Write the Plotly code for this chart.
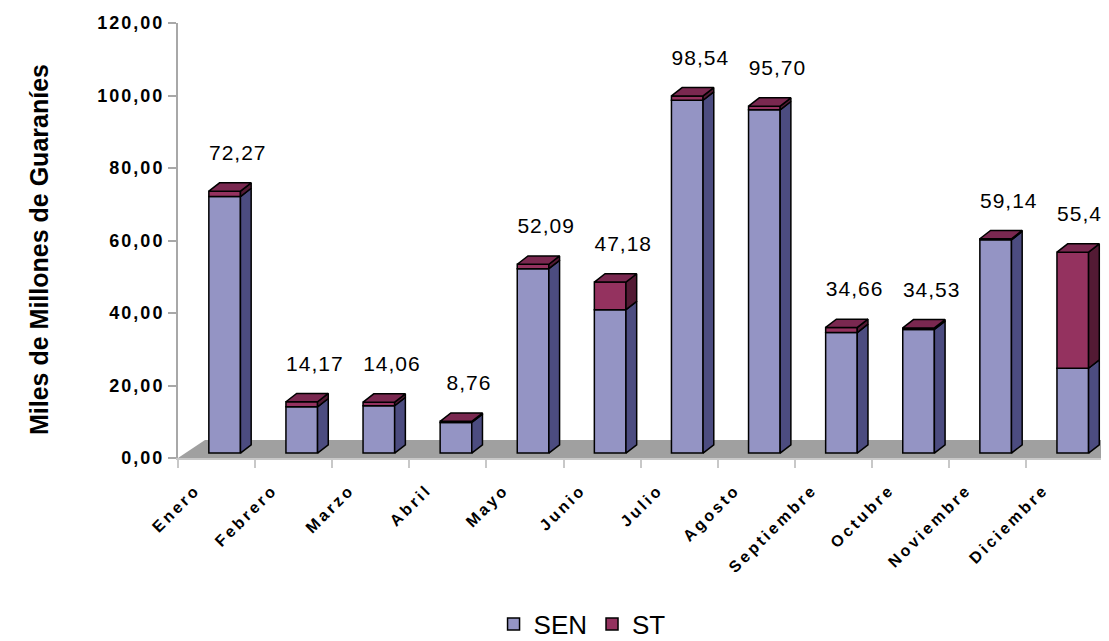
import plotly.graph_objects as go

months = ["Enero", "Febrero", "Marzo", "Abril", "Mayo", "Junio", "Julio",
          "Agosto", "Septiembre", "Octubre", "Noviembre", "Diciembre"]
sen = [70.77, 12.77, 13.06, 8.46, 50.89, 39.58, 97.34, 94.70, 33.26, 34.13, 58.84, 23.40]
st = [1.50, 1.40, 1.00, 0.30, 1.20, 7.60, 1.20, 1.00, 1.40, 0.40, 0.30, 32.03]
totals = [72.27, 14.17, 14.06, 8.76, 52.09, 47.18, 98.54, 95.70, 34.66, 34.53, 59.14, 55.43]
y_ticks = [0, 20, 40, 60, 80, 100, 120]
y_ticktext = [f"{v:.2f}".replace(".", ",") for v in y_ticks]

# 3D look parameters (axis units)
XS = 0.105   # bar shift inside category
W = 0.41     # bar width
DX = 0.139   # depth in x
DY = 2.3     # depth in y
Y0 = 1.35    # bar base above floor front
FDX = 0.35
FDY = 4.97

SEN_F, SEN_S = "#9494C4", "#4C4C80"
ST_F, ST_T, ST_S = "#94325F", "#7A2850", "#531A34"
EDGE = "#000000"

xs = [i + XS for i in range(len(months))]

fig = go.Figure()

fig.add_trace(go.Bar(x=xs, y=sen, base=[Y0] * len(sen), width=W, name="SEN",
                     marker=dict(color=SEN_F, line=dict(color=EDGE, width=1.5))))
fig.add_trace(go.Bar(x=xs, y=st, base=[Y0 + s for s in sen], width=W, name="ST",
                     marker=dict(color=ST_F, line=dict(color=EDGE, width=1.5))))


def poly(px, py, color):
    fig.add_trace(go.Scatter(x=px + [px[0]], y=py + [py[0]], mode="lines", fill="toself",
                             fillcolor=color, line=dict(color=EDGE, width=1.5),
                             showlegend=False, hoverinfo="skip"))


for i, x in enumerate(xs):
    xr = x + W / 2
    xl = x - W / 2
    b0 = Y0
    b1 = Y0 + sen[i]
    b2 = b1 + st[i]
    poly([xr, xr + DX, xr + DX, xr], [b0, b0 + DY, b1 + DY, b1], SEN_S)
    poly([xr, xr + DX, xr + DX, xr], [b1, b1 + DY, b2 + DY, b2], ST_S)
    poly([xl, xr, xr + DX, xl + DX], [b2, b2, b2 + DY, b2 + DY], ST_T)

label_text = [f"<span style='letter-spacing:1px'>{t:.2f}</span>".replace(".", ",") for t in totals]
fig.add_trace(go.Scatter(x=[x + 0.17 for x in xs], y=[Y0 + t + 10 for t in totals],
                         mode="text", text=label_text, textposition="middle center",
                         textfont=dict(family="Liberation Sans", size=21, color="#000"),
                         showlegend=False, hoverinfo="skip", cliponaxis=False))

floor_path = (f"M -0.5,0 L 11.5,0 L {11.5 + FDX},{FDY} L {-0.5 + FDX},{FDY} Z")
fig.add_shape(type="path", path=floor_path, xref="x", yref="y", layer="below",
              fillcolor="#A0A0A0", line=dict(width=0))

# the page body has an 8px margin, so the plot area is placed 8px up/left
fig.update_layout(
    width=1109, height=641,
    margin=dict(l=170, r=8, t=15, b=191, autoexpand=False),
    plot_bgcolor="white", paper_bgcolor="white",
    barmode="overlay",
    font=dict(family="Liberation Sans", color="#000"),
    showlegend=True,
    legend=dict(orientation="h", x=0.434, xanchor="center", y=-0.382, yanchor="middle",
                font=dict(size=26, family="Liberation Sans"), traceorder="normal",
                itemwidth=30, tracegroupgap=0),
    annotations=[dict(text="<b>Miles de Millones de Guaraníes</b>", xref="paper", yref="paper",
                      x=(39 - 178) / 931, y=(458 - 250) / 435, xanchor="center",
                      yanchor="middle", textangle=-90, showarrow=False,
                      font=dict(size=25, family="Liberation Sans", color="#000"))],
)

fig.update_xaxes(
    range=[-0.5, 11.575], showgrid=False, zeroline=False, automargin=False,
    tickmode="array", tickvals=[i - 0.27 for i in range(len(months))],
    ticktext=[f"<span style='letter-spacing:3px'>{m}</span>" for m in months],
    tickangle=-45, ticks="", ticklabelstandoff=14,
    tickfont=dict(family="Liberation Sans", size=16, weight="bold", color="#000"),
    showline=True, linecolor="#C8C8C8", linewidth=2,
    minor=dict(tickmode="array", tickvals=[i - 0.5 for i in range(len(months) + 1)],
               ticks="outside", ticklen=8, tickcolor="#C8C8C8", tickwidth=2, showgrid=False),
)
fig.update_yaxes(
    range=[0, 120], showgrid=False, zeroline=False, automargin=False,
    tickmode="array", tickvals=y_ticks,
    ticktext=[f"<span style='letter-spacing:2px'>{t}</span>" for t in y_ticktext],
    ticks="outside", ticklen=8, tickcolor="#A8A8A8", tickwidth=2,
    tickfont=dict(family="Liberation Sans", size=18, weight="bold", color="#000"),
    showline=True, linecolor="#A8A8A8", linewidth=2,
)

fig.write_html("out.html")
